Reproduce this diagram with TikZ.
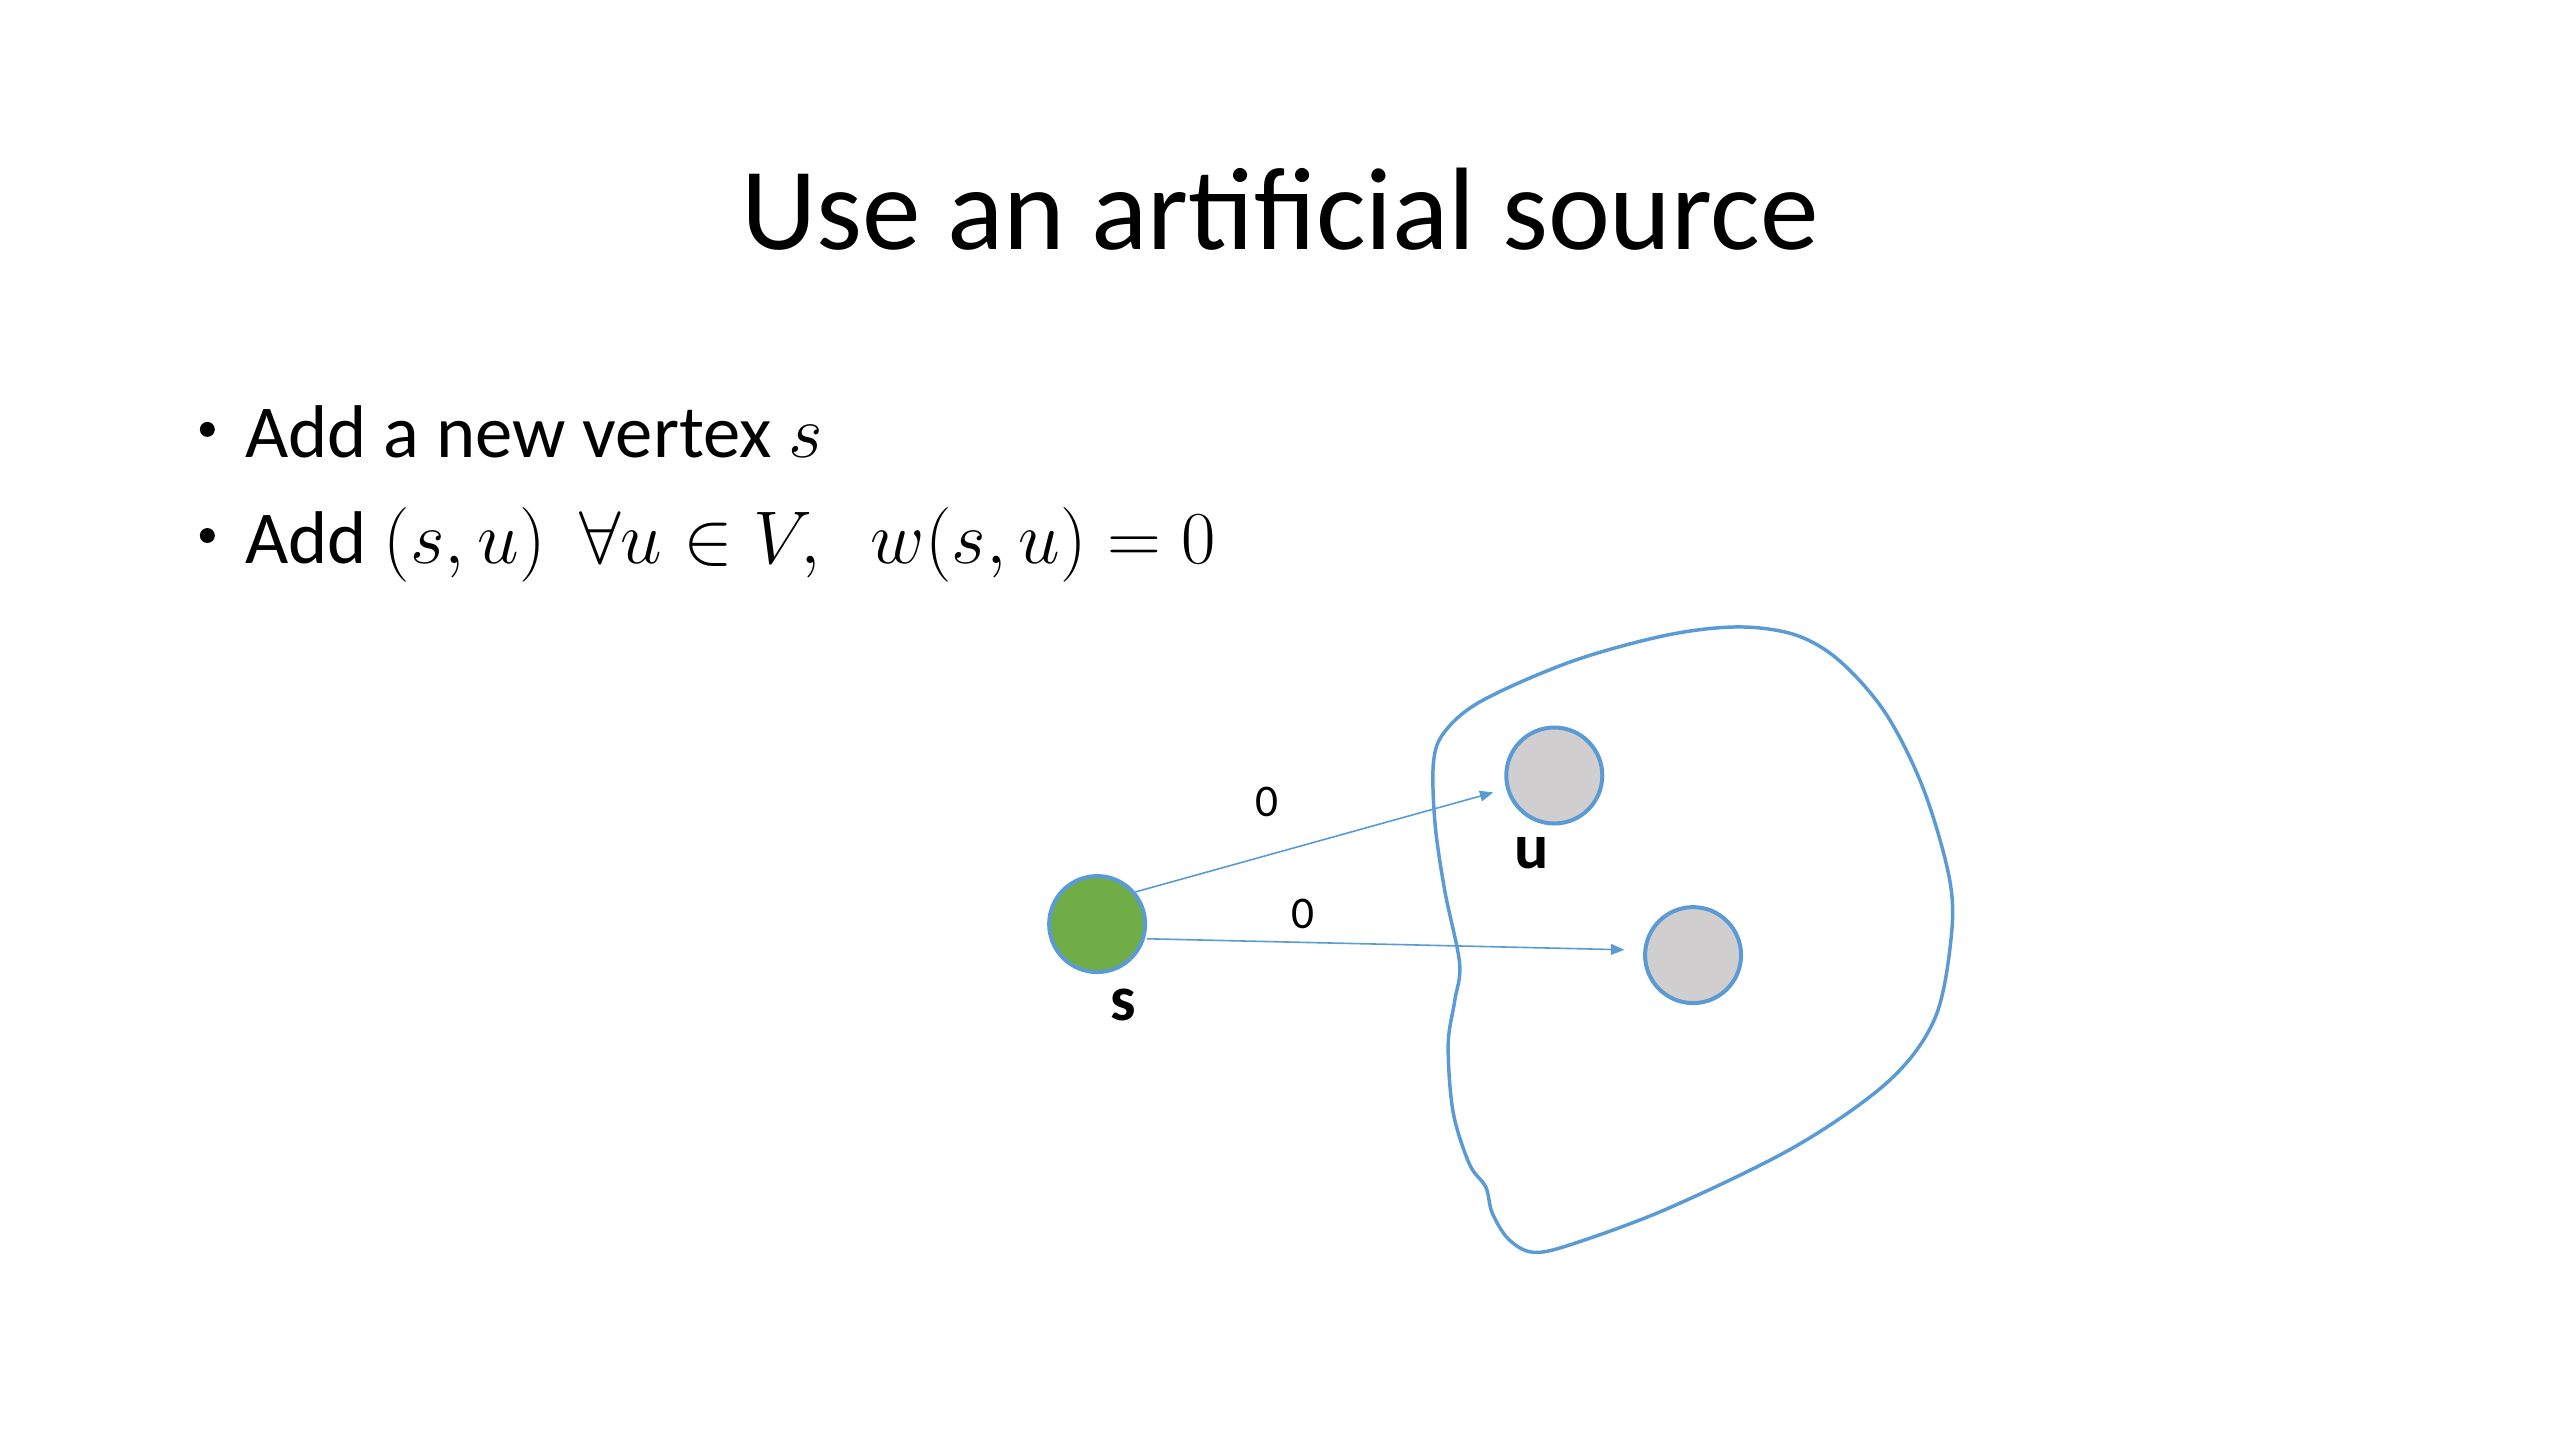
\RequirePackage{fix-cm}
\documentclass[tikz,border=0pt]{standalone}
\usepackage{fontspec}
\setmainfont{Carlito}
\usetikzlibrary{arrows.meta}
\definecolor{lineblue}{HTML}{5B9BD5}
\definecolor{sgreen}{HTML}{70AD47}
\definecolor{vgray}{HTML}{D0CECE}
\begin{document}
\begin{tikzpicture}[x=0.6122pt,y=-0.6122pt,
  vertex/.style={circle,draw=lineblue,line width=1.5pt,minimum size=36pt,inner sep=0pt},
  arr/.style={draw=lineblue,line width=0.6pt,-{Triangle[length=5pt,width=4pt]}},
  vlabel/.style={font=\fontsize{24}{28}\selectfont\bfseries,anchor=base,inner sep=0pt},
  elabel/.style={font=\fontsize{17}{20}\selectfont,anchor=base,inner sep=0pt},
  dot/.style={circle,fill=black,inner sep=0pt,minimum size=5.6pt},
  bullet/.style={font=\fontsize{28}{34}\selectfont,anchor=base west,inner sep=0pt}]
\useasboundingbox (0,0) rectangle (1568,882);
\fill[white] (0,0) rectangle (1568,882);
% title
\node[font=\fontsize{44}{53}\selectfont,anchor=base,inner sep=0pt] (title) at (784,153) {Use an artificial source};
% bullets
\node[dot] (d1) at (127,263) {};
\node[bullet] (b1) at (150,280) {Add a new vertex $s$};
\node[dot] (d2) at (127,328) {};
\node[bullet] (b2) at (150,345) {Add $(s,u)\ \ \forall u\in V,\ \;w(s,u)=0$};
% blob
\draw[lineblue,line width=1.3pt] plot[smooth cycle,tension=0.55] coordinates {
(1065,384) (1100,389) (1127,405) (1155,437) (1178,483) (1194,538) (1195,575)
(1185,624) (1157,662) (1100,702) (1022,740) (963,762) (939,767) (924,759)
(914,743) (910,727) (900,713) (890,681) (887,640) (891,613) (894,590)
(885,546) (879,505) (878,467) (885,448) (908,429) (963,405) (1021,389)};
% vertices
\node[vertex,fill=sgreen] (s) at (672,566) {};
\node[vertex,fill=vgray] (u) at (952,475) {};
\node[vertex,fill=vgray] (v) at (1037,585) {};
\node[vlabel] (sl) at (688,625) {s};
\node[vlabel] (ul) at (938,532) {u};
% edges
\draw[arr,shorten >=5pt] (s.40) -- (u);
\draw[arr,shorten >=7pt] (s.east) ++(0,9) coordinate (se) (se) -- (v.west |- 0,582) ;
\node[elabel] (l1) at (776,500) {0};
\node[elabel] (l2) at (798,569) {0};
\end{tikzpicture}
\end{document}
